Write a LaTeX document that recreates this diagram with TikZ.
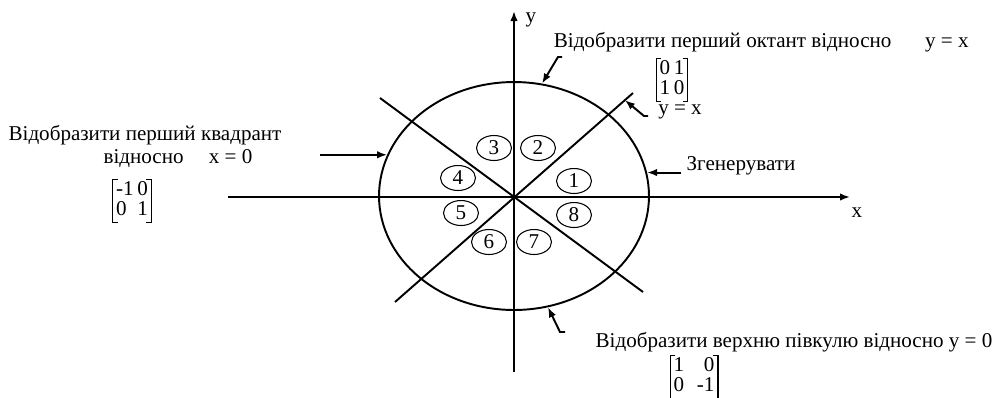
\documentclass[tikz,border=0pt]{standalone}
\usepackage{fontspec}
\setmainfont{Liberation Serif}
\usetikzlibrary{arrows.meta,shapes.geometric}

\renewcommand{\arraystretch}{0.85}
\newcommand{\brk}[1]{\draw[line width=0.6pt] ([xshift=3pt]#1.north west) -- (#1.north west) -- (#1.south west) -- ([xshift=3pt]#1.south west)
	([xshift=-3pt]#1.north east) -- (#1.north east) -- (#1.south east) -- ([xshift=-3pt]#1.south east);}

\begin{document}
\begin{tikzpicture}[x=0.02cm, y=-0.02cm, line width=1.1pt,
	every node/.style={font=\fontsize{12}{13}\selectfont},
	>={Latex[length=2mm]},
	mtxbox/.style={inner xsep=1.5pt, inner ysep=0.5pt},
	sector/.style={draw, ellipse, line width=0.6pt, minimum width=0.7cm, minimum height=0.5cm, inner sep=0pt}]
	\useasboundingbox (0,0) rectangle (993,397);
	% axes
	\coordinate (O) at (514,196);
	\coordinate (xstart) at (228,197);
	\coordinate (xend) at (850,197);
	\coordinate (ystart) at (514,372);
	\coordinate (yend) at (514,11);
	\draw[->] (xstart) -- (xend);
	\draw[->] (ystart) -- (yend);
	\node (xlab) at (857,213) {x};
	\node (ylab) at (531,20) {y};
	% diagonals
	\coordinate (dA1) at (395,302);
	\coordinate (dA2) at (633,93);
	\coordinate (dB1) at (380,98);
	\coordinate (dB2) at (643,292);
	\draw (dA1) -- (dA2);
	\draw (dB1) -- (dB2);
	\path (dA1) -- (dA2) coordinate[pos=0.966] (yxpt);
	% circle and octants
	\node[draw, ellipse, minimum width=5.4cm, minimum height=4.56cm, inner sep=0pt] (circ) at (O) {};
	\foreach \n/\px/\py in {1/574/181, 2/538/148, 3/494/148, 4/458/178, 5/461/213, 6/489/242, 7/534/242, 8/574/215}
		\node[sector] (s\n) at (\px,\py) {\n};
	% left label
	\node (quadtxt) at (145,135) {Відобразити перший квадрант};
	\node (quadrel) at (178,159) {відносно\hspace{1.2em}x = 0};
	\node[mtxbox] (quadmtx) at (132,201) {\begin{tabular}{@{}l@{\,}l@{}}-1 & 0\\0 & 1\end{tabular}};
	\brk{quadmtx}
	\coordinate (quadtail) at (320,156);
	\draw[->] (circ.162 -| quadtail) -- (circ.162);
	% top label
	\node[anchor=west] (octtxt) at (547,42) {Відобразити перший октант відносно\hspace{1.6em}y = x};
	\node[mtxbox] (octmtx) at (672,80) {\begin{tabular}{@{}l@{\,}l@{}}0 & 1\\1 & 0\end{tabular}};
	\brk{octmtx}
	\coordinate (octtail) at (562,57);
	\draw[->] (octtail) -- ++(-4,0) -- (circ.76);
	\node (yxlab) at (680,112) {y = x};
	\coordinate (yxtail) at (648,116);
	\draw[->] (yxtail) -- ++(-4,0) -- (yxpt);
	% right label
	\node (gentxt) at (741,166) {Згенерувати};
	\coordinate (gentail) at (681,172);
	\draw[->] (circ.10 -| gentail) -- (circ.10);
	% bottom label
	\node (hemitxt) at (794,342) {Відобразити верхню півкулю відносно y = 0};
	\node[mtxbox] (hemimtx) at (694,377) {\begin{tabular}{@{}l@{\hspace{0.6em}}r@{}}1 & 0\\0 & -1\end{tabular}};
	\brk{hemimtx}
	\coordinate (hemitail) at (565,332);
	\draw[->] (hemitail) -- ++(-5,0) -- (circ.287);
\end{tikzpicture}
\end{document}
